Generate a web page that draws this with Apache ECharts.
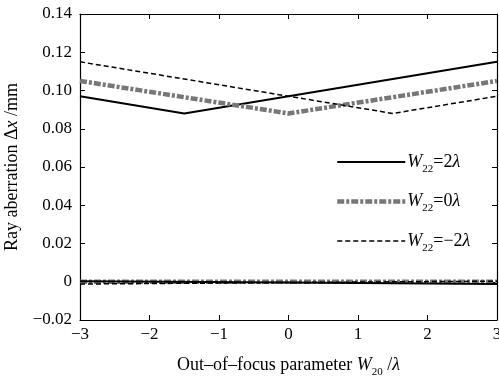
<!DOCTYPE html>
<html>
<head>
<meta charset="utf-8">
<script src="https://cdn.jsdelivr.net/npm/echarts@6/dist/echarts.min.js"></script>
<style>html,body{margin:0;padding:0;background:#fff}#c{width:499px;height:377px}</style>
</head>
<body>
<div id="c"></div>
<script>
// Data
const seriesNames = ['W22=2λ', 'W22=0λ', 'W22=-2λ'];
const xW2 = [-3, -1.5, 3];
const yW2 = [0.097, 0.088, 0.115];
const xW0 = [-3, 0, 3];
const yW0 = [0.105, 0.088, 0.105];
const xWm2 = [-3, 1.5, 3];
const yWm2 = [0.115, 0.088, 0.097];
const xLow = [-3, 0, 3];
const yLowW2 = [0.0003, -0.0004, -0.0012];
const yLowW0 = [0.0000, 0.0000, 0.0000];
const yLowWm2 = [-0.0012, -0.0004, 0.0003];
const xTicks = [-3, -2, -1, 0, 1, 2, 3];
const yTicks = [-0.02, 0, 0.02, 0.04, 0.06, 0.08, 0.10, 0.12, 0.14];

const pairs = (xs, ys) => xs.map((x, i) => [x, ys[i]]);
const FONT = 'Liberation Serif';
const minus = s => s.replace('-', '\u2212');

const styles = [
  {color: '#000', width: 2, type: 'solid'},
  {color: '#777', width: 4.5, type: [7, 2, 3, 2]},
  {color: '#000', width: 1.5, type: [5, 3]}
];

function mk(name, data, st) {
  return {
    name: name, type: 'line', data: data, symbol: 'none', showSymbol: false,
    lineStyle: {color: st.color, width: st.width, type: st.type},
    itemStyle: {color: st.color},
    animation: false, z: 3
  };
}

const legendRich = {
  w: {fontFamily: FONT, fontStyle: 'italic', fontSize: 18, color: '#000'},
  s: {fontFamily: FONT, fontSize: 11, color: '#000', padding: [14, 0, 0, 0]},
  n: {fontFamily: FONT, fontSize: 18, color: '#000'},
  l: {fontFamily: FONT, fontStyle: 'italic', fontSize: 18, color: '#000'}
};
const legendLabel = {
  'W22=2λ': '{w|W}{s|22}{n|=2}{l|λ}',
  'W22=0λ': '{w|W}{s|22}{n|=0}{l|λ}',
  'W22=-2λ': '{w|W}{s|22}{n|=\u22122}{l|λ}'
};

const option = {
  backgroundColor: '#fff',
  animation: false,
  grid: {left: 80, right: 2, top: 14, bottom: 57, show: false, containLabel: false, outerBoundsMode: 'none'},
  legend: {
    data: seriesNames.map((n, i) => ({name: n, lineStyle: {width: styles[i].width, type: styles[i].type, color: styles[i].color}})),
    orient: 'vertical',
    left: 330, top: 148,
    itemWidth: 68, itemHeight: 14, itemGap: 18,
    itemStyle: {opacity: 0},
    formatter: n => legendLabel[n],
    textStyle: {rich: legendRich, padding: [0, 0, 0, -3]}
  },
  xAxis: [{
    type: 'value', min: -3, max: 3, interval: 1,
    position: 'bottom',
    name: '{t|Out\u2013of\u2013focus parameter }{w|W}{s|20}{t| /}{l|λ}',
    nameLocation: 'middle', nameGap: 33,
    nameTextStyle: {rich: {
      t: {fontFamily: FONT, fontSize: 18, color: '#000'},
      w: {fontFamily: FONT, fontSize: 18, fontStyle: 'italic', color: '#000'},
      s: {fontFamily: FONT, fontSize: 11, color: '#000', padding: [14, 0, 0, 0]},
      l: {fontFamily: FONT, fontSize: 18, fontStyle: 'italic', color: '#000'}
    }},
    axisLine: {onZero: false, lineStyle: {color: '#000', width: 1.2}},
    axisTick: {inside: true, length: 5, lineStyle: {color: '#000'}},
    axisLabel: {fontFamily: FONT, fontSize: 17, color: '#000', margin: 6,
      formatter: v => minus(String(v))},
    splitLine: {show: false}
  }, {
    type: 'value', min: -3, max: 3, interval: 1, position: 'top',
    axisLine: {onZero: false, lineStyle: {color: '#000', width: 1.2}},
    axisTick: {inside: true, length: 5, lineStyle: {color: '#000'}},
    axisLabel: {show: false}, splitLine: {show: false}
  }],
  yAxis: [{
    type: 'value', min: -0.02, max: 0.14, interval: 0.02,
    position: 'left',
    name: '{t|Ray aberration Δ}{i|x}{t| /mm}',
    nameLocation: 'middle', nameGap: 56, nameRotate: 90,
    nameTextStyle: {rich: {
      t: {fontFamily: FONT, fontSize: 18, color: '#000'},
      i: {fontFamily: FONT, fontSize: 18, fontStyle: 'italic', color: '#000'}
    }},
    axisLine: {onZero: false, lineStyle: {color: '#000', width: 1.2}},
    axisTick: {inside: true, length: 5, lineStyle: {color: '#000'}},
    axisLabel: {fontFamily: FONT, fontSize: 17, color: '#000', margin: 8,
      formatter: v => Math.abs(v) < 1e-9 ? '0' : minus(v.toFixed(2))},
    splitLine: {show: false}
  }, {
    type: 'value', min: -0.02, max: 0.14, interval: 0.02, position: 'right',
    axisLine: {onZero: false, lineStyle: {color: '#000', width: 1.2}},
    axisTick: {inside: true, length: 5, lineStyle: {color: '#000'}},
    axisLabel: {show: false}, splitLine: {show: false}
  }],
  series: [
    mk(seriesNames[0], pairs(xW2, yW2), styles[0]),
    mk(seriesNames[1], pairs(xW0, yW0), styles[1]),
    mk(seriesNames[2], pairs(xWm2, yWm2), styles[2]),
    mk(seriesNames[1], pairs(xLow, yLowW0), styles[1]),
    mk(seriesNames[0], pairs(xLow, yLowW2), styles[0]),
    mk(seriesNames[2], pairs(xLow, yLowWm2), styles[2])
  ]
};
const chart = echarts.init(document.getElementById('c'), null, {renderer: 'canvas'});
chart.setOption(option);
</script>
</body>
</html>
